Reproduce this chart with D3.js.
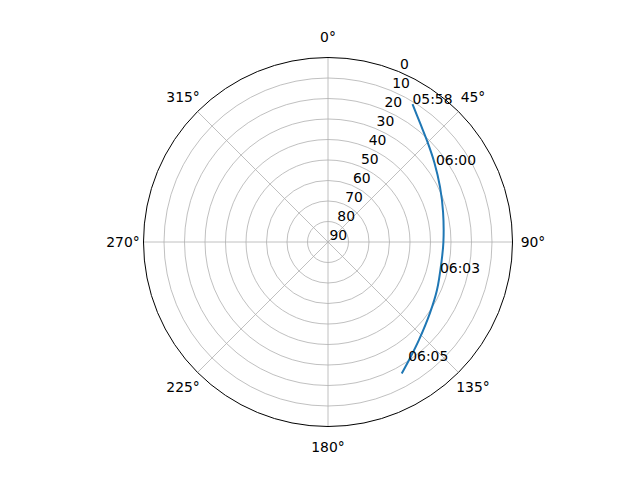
<!DOCTYPE html>
<html>
<head>
<meta charset="utf-8">
<script src="https://cdn.jsdelivr.net/npm/d3@7"></script>
<style>
  body { margin: 0; background: #fff; }
  text { font-family: "DejaVu Sans", sans-serif; font-size: 13.9px; fill: #000; }
</style>
</head>
<body>
<div id="chart"></div>
<script>
// satellite pass, azimuth (deg, clockwise from north) and elevation (deg)
const AZIMUTH = [31.5, 37.7, 44.9, 53.4, 63.8, 75.4, 90, 100.0, 113.8, 124.8, 137.1, 144.7, 150.7];
const ELEVATION = [11.1, 16.6, 21.2, 25.3, 29.1, 32.0, 33.7, 33.8, 31.9, 29.4, 24.8, 20.7, 16.5];

// time stamps along the track
const TIME_LABELS = ["05:58", "06:00", "06:03", "06:05"];
const TIME_AZIMUTH = [31.5, 54.5, 105.6, 146.0];
const TIME_ELEVATION = [11.1, 25.3, 33.3, 20.0];

const R_TICKS = [0, 10, 20, 30, 40, 50, 60, 70, 80, 90];
const THETA_TICKS = [0, 45, 90, 135, 180, 225, 270, 315];

const width = 640;
const height = 480;
const cx = 328;
const cy = 242;
const radius = 184.5;

const svg = d3.select("#chart").append("svg")
  .attr("width", width)
  .attr("height", height);

// elevation 0 at the rim, 90 at the centre
const r = d3.scaleLinear().domain([0, 90]).range([radius, 0]);
const a = d3.scaleLinear().domain([0, 360]).range([0, 2 * Math.PI]);

const px = (az, el) => cx + r(el) * Math.sin(a(az));
const py = (az, el) => cy - r(el) * Math.cos(a(az));

const g = svg.append("g");

// rings
g.selectAll(".ring")
  .data(R_TICKS.filter(d => d > 0 && d < 90))
  .join("circle")
  .attr("class", "ring")
  .attr("cx", cx)
  .attr("cy", cy)
  .attr("r", d => r(d))
  .attr("fill", "none")
  .attr("stroke", "#b0b0b0")
  .attr("stroke-width", 0.8);

// spokes
g.selectAll(".spoke")
  .data(THETA_TICKS)
  .join("line")
  .attr("class", "spoke")
  .attr("x1", cx)
  .attr("y1", cy)
  .attr("x2", d => px(d, 0))
  .attr("y2", d => py(d, 0))
  .attr("stroke", "#b0b0b0")
  .attr("stroke-width", 0.8);

// outer spine
g.append("circle")
  .attr("cx", cx)
  .attr("cy", cy)
  .attr("r", r(0))
  .attr("fill", "none")
  .attr("stroke", "#000")
  .attr("stroke-width", 1);

// angle labels
g.selectAll(".theta-label")
  .data(THETA_TICKS)
  .join("text")
  .attr("class", "theta-label")
  .attr("x", d => cx + (radius + 20.5) * Math.sin(a(d)))
  .attr("y", d => cy - (radius + 20.5) * Math.cos(a(d)))
  .attr("text-anchor", "middle")
  .attr("dominant-baseline", "central")
  .text(d => d + "°");

// radial labels at 22.5 deg
g.selectAll(".r-label")
  .data(R_TICKS)
  .join("text")
  .attr("class", "r-label")
  .attr("x", d => px(22.5, d) + 1.5)
  .attr("y", d => py(22.5, d) - 2.5)
  .text(d => d);

// track
const track = AZIMUTH.map((az, i) => [az, ELEVATION[i]]);
const line = d3.line()
  .x(d => px(d[0], d[1]))
  .y(d => py(d[0], d[1]))
  .curve(d3.curveCatmullRom);

g.append("path")
  .datum(track)
  .attr("d", line)
  .attr("fill", "none")
  .attr("stroke", "#1f77b4")
  .attr("stroke-width", 2);

// time stamps
g.selectAll(".time-label")
  .data(TIME_LABELS)
  .join("text")
  .attr("class", "time-label")
  .attr("x", (d, i) => px(TIME_AZIMUTH[i], TIME_ELEVATION[i]))
  .attr("y", (d, i) => py(TIME_AZIMUTH[i], TIME_ELEVATION[i]))
  .text(d => d);
</script>
</body>
</html>
